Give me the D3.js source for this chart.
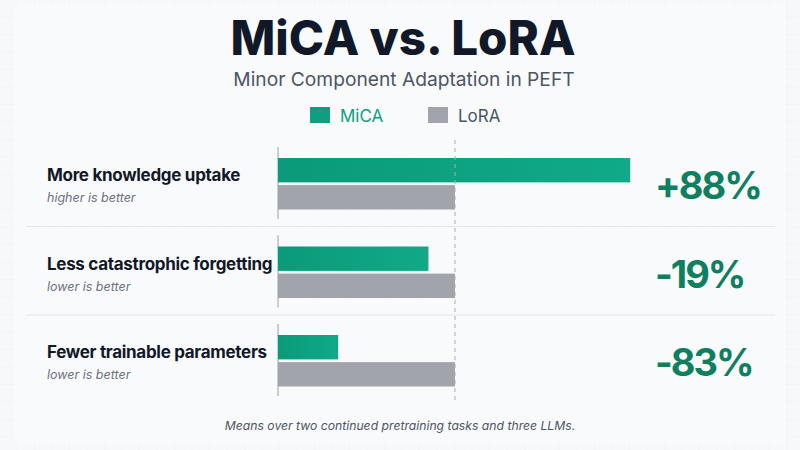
<!DOCTYPE html>
<html>
<head>
<meta charset="utf-8">
<script src="https://cdn.jsdelivr.net/npm/d3@7"></script>
<style>
  html, body { margin: 0; padding: 0; background: #f7f8fa; }
  svg { display: block; font-family: Inter, 'Noto Sans', sans-serif; }
</style>
</head>
<body>
<div id="chart"></div>
<script>
// data
const categories = ["More knowledge uptake", "Less catastrophic forgetting", "Fewer trainable parameters"];
const notes = ["higher is better", "lower is better", "lower is better"];
const series = ["MiCA", "LoRA"];
const micaValues = [199, 85, 34];   // bar length relative to LoRA = 100 (as drawn)
const loraValues = [100, 100, 100];
const changeLabels = ["+88%", "-19%", "-83%"];

const width = 800, height = 450;
const colors = {MiCA: "#0e9f7e", LoRA: "#a2a4ab"};

const svg = d3.select("#chart").append("svg")
    .attr("width", width).attr("height", height)
    .attr("viewBox", [0, 0, width, height]);

// faint grid background
const defs = svg.append("defs");
const grid = defs.append("pattern").attr("id", "grid")
    .attr("width", 17.5).attr("height", 17.5).attr("patternUnits", "userSpaceOnUse");
grid.append("rect").attr("width", 17.5).attr("height", 17.5).attr("fill", "#f7f8fa");
grid.append("path").attr("d", "M17.5 0 V17.5 M0 17.5 H17.5")
    .attr("stroke", "#eef0f3").attr("stroke-width", 1).attr("fill", "none");
const grad = defs.append("linearGradient").attr("id", "micaGrad");
grad.append("stop").attr("offset", "0%").attr("stop-color", "#0b9a7a");
grad.append("stop").attr("offset", "100%").attr("stop-color", "#10aa88");

svg.append("rect").attr("width", width).attr("height", height).attr("fill", "url(#grid)");
svg.append("rect").attr("x", 14).attr("y", 4).attr("width", width - 28).attr("height", height - 10)
    .attr("rx", 6).attr("fill", "#fafbfc").attr("opacity", 0.75);

// title
svg.append("text").attr("x", 403).attr("y", 55).attr("text-anchor", "middle")
    .attr("font-size", 47.5).attr("font-weight", 800).attr("fill", "#111827")
    .text("MiCA vs. LoRA");
svg.append("text").attr("x", 404).attr("y", 86).attr("text-anchor", "middle")
    .attr("font-size", 19.2).attr("font-weight", 400).attr("fill", "#4b5563")
    .text("Minor Component Adaptation in PEFT");

// legend
const legend = svg.append("g");
const legendX = {MiCA: 310, LoRA: 428};
series.forEach(s => {
  legend.append("rect").attr("x", legendX[s]).attr("y", 107).attr("width", 20).attr("height", 16)
      .attr("fill", colors[s]);
  legend.append("text").attr("x", legendX[s] + 30).attr("y", 122)
      .attr("font-size", 17).attr("fill", s === "MiCA" ? "#0e9f7e" : "#4b5563")
      .text(s);
});

// scales
const x = d3.scaleLinear().domain([0, 100]).range([278, 455]);
const y = d3.scaleBand().domain(categories).range([140, 405.5]);
const yInner = d3.scaleBand().domain(series).range([18, 69.5]).paddingInner(0.1);

const rows = categories.map((c, i) => ({
  cat: c, note: notes[i], label: changeLabels[i],
  values: [{key: "MiCA", v: micaValues[i]}, {key: "LoRA", v: loraValues[i]}]
}));

// separators
categories.slice(1).forEach(c => {
  svg.append("line").attr("x1", 26).attr("x2", 775)
      .attr("y1", y(c) - 2).attr("y2", y(c) - 2)
      .attr("stroke", "#e3e6ea").attr("stroke-width", 1);
});

const row = svg.selectAll("g.row").data(rows).join("g")
    .attr("class", "row")
    .attr("transform", d => `translate(0,${y(d.cat)})`);

// zero axis segment per row
row.append("line").attr("x1", x(0)).attr("x2", x(0))
    .attr("y1", 7).attr("y2", 79)
    .attr("stroke", "#9aa0a8").attr("stroke-width", 1);

row.selectAll("rect.bar").data(d => d.values).join("rect")
    .attr("class", "bar")
    .attr("x", x(0))
    .attr("y", d => yInner(d.key))
    .attr("width", d => x(d.v) - x(0))
    .attr("height", yInner.bandwidth())
    .attr("fill", d => d.key === "MiCA" ? "url(#micaGrad)" : colors.LoRA);

const mid = y.bandwidth() / 2;
row.append("text").attr("x", 47).attr("y", mid - 3)
    .attr("font-size", 17).attr("font-weight", 700).attr("letter-spacing", -0.3)
    .attr("fill", "#111827")
    .text(d => d.cat);
row.append("text").attr("x", 47).attr("y", mid + 18)
    .attr("font-size", 12.5).attr("font-style", "italic").attr("fill", "#6b7280")
    .text(d => d.note);
row.append("text").attr("x", 655).attr("y", mid + 15)
    .attr("font-size", 38).attr("font-weight", 700).attr("letter-spacing", -2)
    .attr("fill", "#0f7f60")
    .text(d => d.label);

// LoRA reference line
svg.append("line").attr("x1", x(100)).attr("x2", x(100))
    .attr("y1", 140).attr("y2", 404)
    .attr("stroke", "#a9adb4").attr("stroke-width", 1).attr("stroke-dasharray", "4,4");

// footnote
svg.append("text").attr("x", 400).attr("y", 430).attr("text-anchor", "middle")
    .attr("font-size", 12.2).attr("font-style", "italic").attr("fill", "#4b5563")
    .text("Means over two continued pretraining tasks and three LLMs.");
</script>
</body>
</html>
